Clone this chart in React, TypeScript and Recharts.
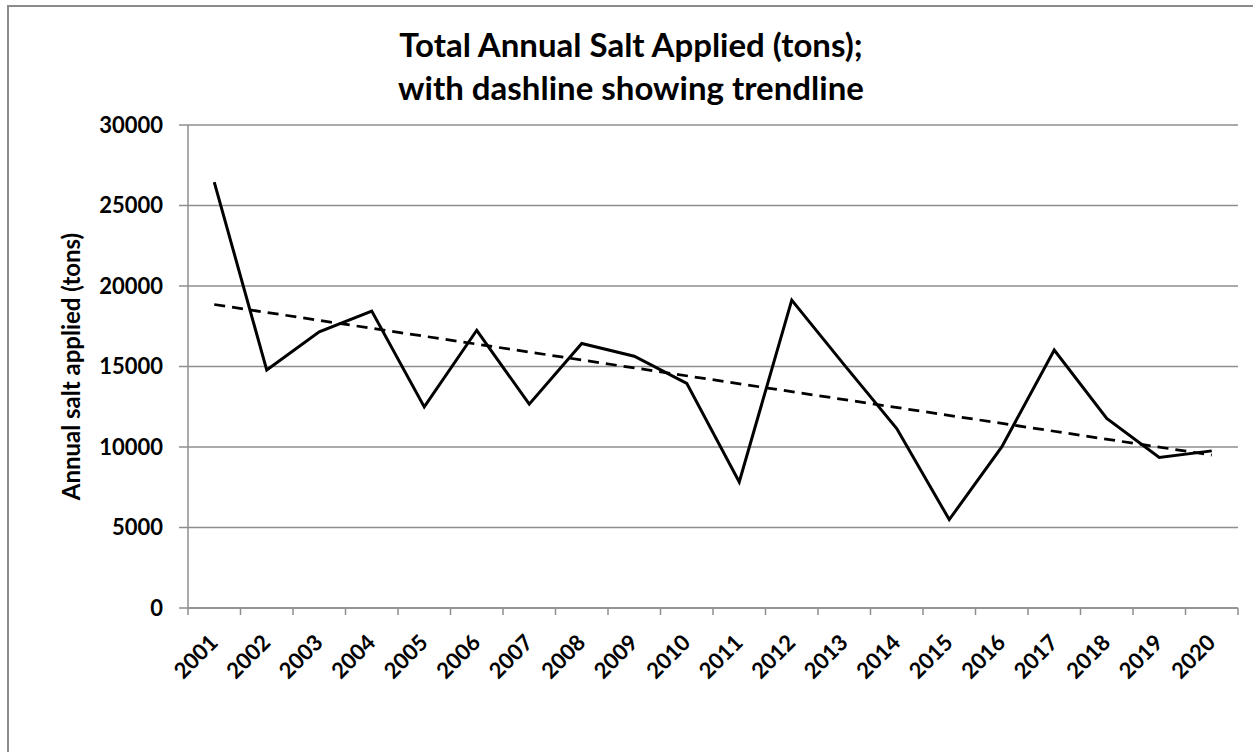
import React from 'react';
import { LineChart, Line, XAxis, YAxis, CartesianGrid } from 'recharts';

const years = ['2001', '2002', '2003', '2004', '2005', '2006', '2007', '2008', '2009', '2010',
  '2011', '2012', '2013', '2014', '2015', '2016', '2017', '2018', '2019', '2020'];
const saltApplied = [26450, 14780, 17150, 18440, 12490, 17250, 12660, 16430, 15640, 13950,
  7830, 19120, 15100, 11150, 5490, 10000, 16020, 11770, 9350, 9760];
const trendYears = ['2001', '2020'];
const trendValues = [18850, 9500];
const yTicks = [0, 5000, 10000, 15000, 20000, 25000, 30000];
const titleLines = ['Total Annual Salt Applied (tons);', 'with dashline showing trendline'];
const yAxisTitle = 'Annual salt applied (tons)';

const FONT = 'Lato, "Open Sans", sans-serif';
const GRID = '#8e8e8e';

const data = years.map((year, i) => {
  const t = trendYears.indexOf(year);
  return { pos: i + 1, year, salt: saltApplied[i], trend: t >= 0 ? trendValues[t] : null };
});

const centerTicks = years.map((_, i) => i + 1);
const boundaryTicks = years.map((_, i) => i + 0.5).concat([years.length + 0.5]);
const allTicks = [...boundaryTicks, ...centerTicks].sort((a, b) => a - b);

const XTick = (props: any) => {
  const { x, y, payload } = props;
  const v = payload.value;
  if (!Number.isInteger(v)) {
    return <line x1={x} y1={y - 7} x2={x} y2={y} stroke={GRID} strokeWidth={1.5} />;
  }
  const ax = x + 5;
  const ay = y + 29;
  return (
    <text x={ax} y={ay} transform={`rotate(-45 ${ax} ${ay})`} textAnchor="end"
      fontFamily={FONT} fontWeight={700} fontSize={22} fill="#000">
      {years[v - 1]}
    </text>
  );
};

const YLabel = (props: any) => {
  const vb = props.viewBox || {};
  const cx = (vb.x ?? 68) + 12;
  const cy = (vb.y ?? 125) + (vb.height ?? 483) / 2;
  return (
    <text x={cx} y={cy} transform={`rotate(-90 ${cx} ${cy})`} textAnchor="middle"
      fontFamily={FONT} fontWeight={700} fontSize={24} fill="#000">
      {yAxisTitle}
    </text>
  );
};

export default function App() {
  return (
    <div style={{ position: 'absolute', left: 0, top: 0, width: 1253, height: 752, overflow: 'hidden', background: '#fff' }}>
      <div style={{ position: 'absolute', left: 7, top: 5, width: 1260, height: 760, border: '2px solid #8c8c8c' }} />
      <svg width={1253} height={120} style={{ position: 'absolute', left: 0, top: 0 }}>
        <text x={631} y={57} textAnchor="middle" fontFamily={FONT} fontWeight={700} fontSize={33} fill="#000">
          {titleLines[0]}
        </text>
        <text x={631} y={100} textAnchor="middle" fontFamily={FONT} fontWeight={700} fontSize={33} fill="#000">
          {titleLines[1]}
        </text>
      </svg>
      <div style={{ position: 'absolute', left: 0, top: 0 }}>
        <LineChart width={1253} height={752} data={data}
          margin={{ top: 125, right: 15, left: 68, bottom: 64 }}>
          <CartesianGrid vertical={false} stroke={GRID} strokeWidth={1.5} />
          <XAxis dataKey="pos" type="number" domain={[0.5, years.length + 0.5]} ticks={allTicks}
            interval={0} tickLine={false} tickSize={7} tickMargin={0} height={80}
            axisLine={{ stroke: GRID, strokeWidth: 1.5 }} tick={<XTick />} />
          <YAxis type="number" domain={[0, 30000]} ticks={yTicks} interval={0} width={120}
            tickSize={9} tickMargin={16}
            tickLine={{ stroke: GRID, strokeWidth: 1.5 }}
            axisLine={{ stroke: GRID, strokeWidth: 1.5 }}
            tick={{ fontFamily: FONT, fontWeight: 700, fontSize: 22, fill: '#000' }}
            label={<YLabel />} />
          <Line type="linear" dataKey="trend" stroke="#000" strokeWidth={2.75} strokeDasharray="11 7"
            dot={false} connectNulls isAnimationActive={false} />
          <Line type="linear" dataKey="salt" stroke="#000" strokeWidth={3}
            dot={false} isAnimationActive={false} />
        </LineChart>
      </div>
    </div>
  );
}
